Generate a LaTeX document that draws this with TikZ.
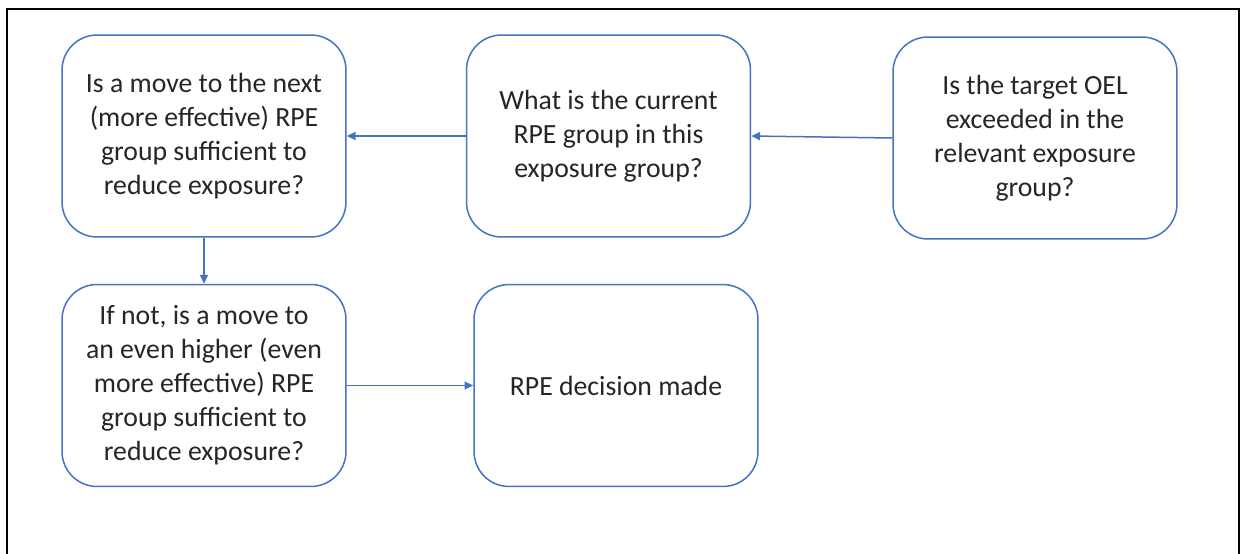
\documentclass[tikz,border=0pt]{standalone}
\usepackage{fontspec}
\setmainfont{Carlito}
\usetikzlibrary{arrows.meta}
\definecolor{bordo}{HTML}{4472C4}
\definecolor{testo}{HTML}{262626}
\tikzset{
	casella/.style={draw=bordo,line width=0.85pt,rounded corners=0.7cm,fill=white,
		minimum width=5.68cm,minimum height=4.04cm,align=center,
		text=testo,font=\fontsize{15.8}{19.4}\selectfont},
	freccia/.style={draw=bordo,line width=0.85pt,-{Triangle[length=5pt,width=4.5pt]}}
}
\begin{document}
\begin{tikzpicture}[x=0.02cm,y=-0.02cm]
		\useasboundingbox (0,0) rectangle (1241,554);
		% Cornice aperta in basso
		\draw[line width=1.2pt,black] (7,554) -- (7,9) -- (1239,9) -- (1239,554);

		% Riga superiore (da destra verso sinistra)
		\node[casella] (oel) at (1035,138) {Is the target OEL\\exceeded in the\\relevant exposure\\group?};
		\node[casella] (attuale) at (608.5,136) {What is the current\\RPE group in this\\exposure group?};
		\node[casella] (prossimo) at (204,136) {Is a move to the next\\(more effective) RPE\\group sufficient to\\reduce exposure?};

		% Riga inferiore
		\node[casella] (superiore) at (204,385.5) {If not, is a move to\\an even higher (even\\more effective) RPE\\group sufficient to\\reduce exposure?};
		\node[casella] (decisione) at (616,385.5) {RPE decision made};

		% Collegamenti
		\draw[freccia] (oel.west) -- (attuale.east);
		\draw[freccia] (attuale) -- (prossimo);
		\draw[freccia] (prossimo) -- (superiore);
		\draw[freccia] (superiore) -- (decisione);
	\end{tikzpicture}
\end{document}
